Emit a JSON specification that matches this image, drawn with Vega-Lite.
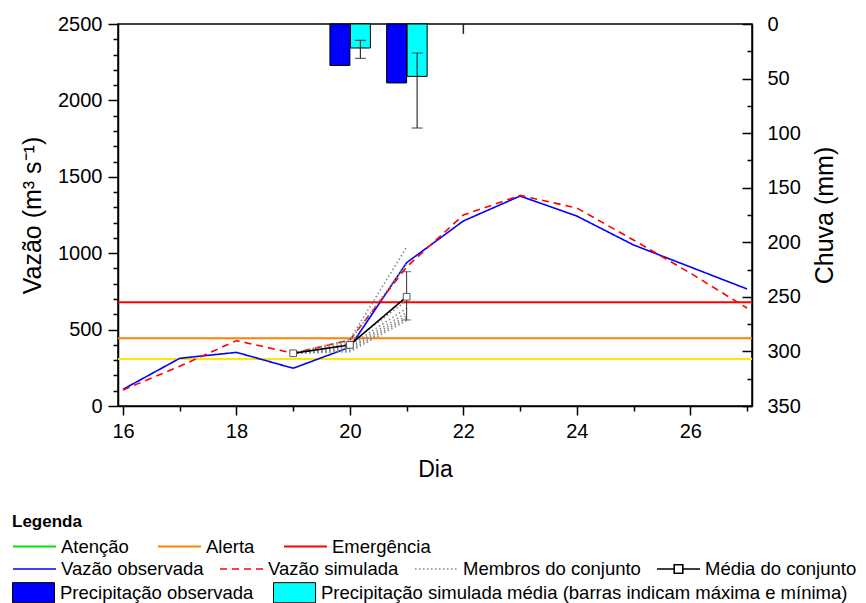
{
  "$schema": "https://vega.github.io/schema/vega-lite/v6.json",
  "width": 634,
  "height": 382,
  "autosize": {"type": "none"},
  "padding": {"left": 118, "top": 24, "right": 114, "bottom": 197},
  "background": "white",
  "datasets": {
    "limiares": [
      {"nivel": "Atenção", "vazao": 307},
      {"nivel": "Alerta", "vazao": 443},
      {"nivel": "Emergência", "vazao": 679}
    ],
    "vazao": [
      {"dia": 16, "vazao": 109, "serie": "Vazão observada", "membro": "obs"},
      {"dia": 17, "vazao": 312, "serie": "Vazão observada", "membro": "obs"},
      {"dia": 18, "vazao": 351, "serie": "Vazão observada", "membro": "obs"},
      {"dia": 19, "vazao": 247, "serie": "Vazão observada", "membro": "obs"},
      {"dia": 20, "vazao": 385, "serie": "Vazão observada", "membro": "obs"},
      {"dia": 21, "vazao": 938, "serie": "Vazão observada", "membro": "obs"},
      {"dia": 22, "vazao": 1211, "serie": "Vazão observada", "membro": "obs"},
      {"dia": 23, "vazao": 1374, "serie": "Vazão observada", "membro": "obs"},
      {"dia": 24, "vazao": 1243, "serie": "Vazão observada", "membro": "obs"},
      {"dia": 25, "vazao": 1054, "serie": "Vazão observada", "membro": "obs"},
      {"dia": 26, "vazao": 910, "serie": "Vazão observada", "membro": "obs"},
      {"dia": 27, "vazao": 766, "serie": "Vazão observada", "membro": "obs"},
      {"dia": 16, "vazao": 105, "serie": "Vazão simulada", "membro": "sim"},
      {"dia": 17, "vazao": 260, "serie": "Vazão simulada", "membro": "sim"},
      {"dia": 18, "vazao": 428, "serie": "Vazão simulada", "membro": "sim"},
      {"dia": 19, "vazao": 345, "serie": "Vazão simulada", "membro": "sim"},
      {"dia": 20, "vazao": 432, "serie": "Vazão simulada", "membro": "sim"},
      {"dia": 21, "vazao": 910, "serie": "Vazão simulada", "membro": "sim"},
      {"dia": 22, "vazao": 1250, "serie": "Vazão simulada", "membro": "sim"},
      {"dia": 23, "vazao": 1378, "serie": "Vazão simulada", "membro": "sim"},
      {"dia": 24, "vazao": 1296, "serie": "Vazão simulada", "membro": "sim"},
      {"dia": 25, "vazao": 1086, "serie": "Vazão simulada", "membro": "sim"},
      {"dia": 26, "vazao": 870, "serie": "Vazão simulada", "membro": "sim"},
      {"dia": 27, "vazao": 641, "serie": "Vazão simulada", "membro": "sim"},
      {"dia": 19, "vazao": 345, "serie": "Membros do conjunto", "membro": "m1"},
      {"dia": 20, "vazao": 435, "serie": "Membros do conjunto", "membro": "m1"},
      {"dia": 21, "vazao": 1040, "serie": "Membros do conjunto", "membro": "m1"},
      {"dia": 19, "vazao": 345, "serie": "Membros do conjunto", "membro": "m2"},
      {"dia": 20, "vazao": 425, "serie": "Membros do conjunto", "membro": "m2"},
      {"dia": 21, "vazao": 930, "serie": "Membros do conjunto", "membro": "m2"},
      {"dia": 19, "vazao": 345, "serie": "Membros do conjunto", "membro": "m3"},
      {"dia": 20, "vazao": 410, "serie": "Membros do conjunto", "membro": "m3"},
      {"dia": 21, "vazao": 690, "serie": "Membros do conjunto", "membro": "m3"},
      {"dia": 19, "vazao": 345, "serie": "Membros do conjunto", "membro": "m4"},
      {"dia": 20, "vazao": 395, "serie": "Membros do conjunto", "membro": "m4"},
      {"dia": 21, "vazao": 640, "serie": "Membros do conjunto", "membro": "m4"},
      {"dia": 19, "vazao": 345, "serie": "Membros do conjunto", "membro": "m5"},
      {"dia": 20, "vazao": 385, "serie": "Membros do conjunto", "membro": "m5"},
      {"dia": 21, "vazao": 610, "serie": "Membros do conjunto", "membro": "m5"},
      {"dia": 19, "vazao": 345, "serie": "Membros do conjunto", "membro": "m6"},
      {"dia": 20, "vazao": 375, "serie": "Membros do conjunto", "membro": "m6"},
      {"dia": 21, "vazao": 590, "serie": "Membros do conjunto", "membro": "m6"},
      {"dia": 19, "vazao": 345, "serie": "Membros do conjunto", "membro": "m7"},
      {"dia": 20, "vazao": 365, "serie": "Membros do conjunto", "membro": "m7"},
      {"dia": 21, "vazao": 575, "serie": "Membros do conjunto", "membro": "m7"},
      {"dia": 19, "vazao": 345, "serie": "Membros do conjunto", "membro": "m8"},
      {"dia": 20, "vazao": 355, "serie": "Membros do conjunto", "membro": "m8"},
      {"dia": 21, "vazao": 560, "serie": "Membros do conjunto", "membro": "m8"},
      {"dia": 19, "vazao": 345, "serie": "Média do conjunto", "membro": "media"},
      {"dia": 20, "vazao": 400, "serie": "Média do conjunto", "membro": "media"},
      {"dia": 21, "vazao": 715, "serie": "Média do conjunto", "membro": "media"}
    ],
    "erro_media": [
      {"dia": 21, "min": 563, "max": 879}
    ],
    "chuva": [
      {"dia": 20, "mm": 38, "tipo": "Precipitação observada"},
      {"dia": 21, "mm": 54, "tipo": "Precipitação observada"},
      {"dia": 20, "mm": 22, "tipo": "Precipitação simulada média (barras indicam máxima e mínima)"},
      {"dia": 21, "mm": 48, "tipo": "Precipitação simulada média (barras indicam máxima e mínima)"}
    ],
    "erro_chuva": [
      {"dia": 20, "min": 15, "max": 31.5},
      {"dia": 21, "min": 26.6, "max": 95.3}
    ],
    "erro_chuva_22": [
      {"dia": 22, "min": 0, "max": 9}
    ]
  },
  "layer": [
    {
      "layer": [
        {
          "data": {"name": "limiares"},
          "transform": [{"filter": "datum.nivel == 'Atenção'"}],
          "mark": {"type": "rule", "strokeWidth": 2, "color": "#ffe600"},
          "encoding": {
            "y": {
              "field": "vazao", "type": "quantitative", "title": "Vazão (m³ s⁻¹)",
              "scale": {"domain": [0, 2500], "nice": false, "zero": true},
              "axis": {
                "orient": "left",
                "values": [0,100,200,300,400,500,600,700,800,900,1000,1100,1200,1300,1400,1500,1600,1700,1800,1900,2000,2100,2200,2300,2400,2500],
                "tickCount": 40,
                "labelExpr": "datum.value % 500 == 0 ? format(datum.value, 'd') : ''",
                "labelFontSize": {"condition": {"test": "datum.value % 500 == 0", "value": 20}, "value": 0},
                "tickSize": {"condition": {"test": "datum.value % 500 == 0", "value": 10}, "value": 5},
                "labelPadding": 6,
                "labelOverlap": false,
                "labelBound": false,
                "labelFlush": false,
                "titlePadding": 12
              }
            }
          }
        },
        {
          "data": {"name": "limiares"},
          "transform": [{"filter": "datum.nivel == 'Alerta'"}],
          "mark": {"type": "rule", "strokeWidth": 2, "color": "#ff8000"},
          "encoding": {
            "y": {"field": "vazao", "type": "quantitative", "title": "Vazão (m³ s⁻¹)"}
          }
        },
        {
          "data": {"name": "limiares"},
          "transform": [{"filter": "datum.nivel == 'Emergência'"}],
          "mark": {"type": "rule", "strokeWidth": 2, "color": "#ff0000"},
          "encoding": {
            "y": {"field": "vazao", "type": "quantitative", "title": "Vazão (m³ s⁻¹)"}
          }
        },
        {
          "data": {"name": "limiares"},
          "transform": [{"filter": "datum.vazao < 0"}],
          "mark": {"type": "rule", "strokeWidth": 2},
          "encoding": {
            "y": {"field": "vazao", "type": "quantitative", "title": "Vazão (m³ s⁻¹)"},
            "stroke": {
              "field": "nivel", "type": "nominal",
              "scale": {"domain": ["Atenção", "Alerta", "Emergência"], "range": ["#00e600", "#ff8000", "#ff0000"]},
              "legend": {
                "title": "Legenda",
                "orient": "none",
                "legendX": -106,
                "legendY": 490,
                "direction": "horizontal",
                "symbolType": "stroke",
                "symbolSize": 1849,
                "symbolStrokeWidth": 2,
                "labelOffset": 4,
                "columnPadding": 25,
                "titlePadding": -7
              }
            }
          }
        },
        {
          "data": {"name": "vazao"},
          "mark": {"type": "line"},
          "encoding": {
            "x": {
              "field": "dia", "type": "quantitative", "title": "Dia",
              "scale": {"domain": [16, 27], "nice": false, "zero": false},
              "axis": {
                "values": [16,17,18,19,20,21,22,23,24,25,26,27],
                "tickCount": 40,
                "labelExpr": "datum.value % 2 == 0 ? format(datum.value, 'd') : ''",
                "tickSize": {"condition": {"test": "datum.value % 2 == 0", "value": 9}, "value": 5},
                "labelPadding": 6,
                "labelOverlap": false,
                "labelBound": false,
                "labelFlush": false,
                "titleFontSize": 23,
                "titlePadding": 17
              }
            },
            "y": {"field": "vazao", "type": "quantitative", "title": "Vazão (m³ s⁻¹)"},
            "detail": {"field": "membro"},
            "color": {
              "field": "serie", "type": "nominal",
              "scale": {"domain": ["Vazão observada", "Vazão simulada", "Membros do conjunto", "Média do conjunto"], "range": ["#0000ff", "#ff0000", "#888888", "#000000"]},
              "legend": {
                "title": null,
                "orient": "none",
                "legendX": -106,
                "legendY": 522.5,
                "direction": "horizontal",
                "symbolType": "stroke",
                "symbolSize": 1849,
                "symbolStrokeWidth": 1.5,
                "labelOffset": 4,
                "columnPadding": 12,
                "encode": {
                  "symbols": {
                    "update": {
                      "shape": {"signal": "datum.label == 'Média do conjunto' ? 'M-1,0H-0.2M0.2,0H1M-0.2,-0.2H0.2V0.2H-0.2Z' : 'stroke'"},
                      "strokeWidth": {"signal": "datum.label == 'Média do conjunto' ? 2 : 1.5"}
                    }
                  }
                }
              }
            },
            "strokeDash": {
              "field": "serie", "type": "nominal",
              "scale": {"domain": ["Vazão observada", "Vazão simulada", "Membros do conjunto", "Média do conjunto"], "range": [[1, 0], [7, 5], [1.5, 2.5], [1, 0]]},
              "legend": {
                "title": null,
                "orient": "none",
                "legendX": -106,
                "legendY": 522.5,
                "direction": "horizontal",
                "symbolType": "stroke",
                "symbolSize": 1849,
                "symbolStrokeWidth": 1.5,
                "labelOffset": 4,
                "columnPadding": 12
              }
            },
            "strokeWidth": {
              "field": "serie", "type": "nominal",
              "scale": {"domain": ["Vazão observada", "Vazão simulada", "Membros do conjunto", "Média do conjunto"], "range": [1.6, 1.6, 1.3, 2.2]},
              "legend": null
            }
          }
        },
        {
          "data": {"name": "erro_media"},
          "mark": {"type": "rule", "color": "#333333", "strokeWidth": 1},
          "encoding": {
            "x": {"field": "dia", "type": "quantitative"},
            "y": {"field": "min", "type": "quantitative", "title": "Vazão (m³ s⁻¹)"},
            "y2": {"field": "max"}
          }
        },
        {
          "data": {"name": "erro_media"},
          "mark": {"type": "tick", "orient": "horizontal", "color": "#333333", "size": 9, "thickness": 1},
          "encoding": {
            "x": {"field": "dia", "type": "quantitative"},
            "y": {"field": "min", "type": "quantitative", "title": "Vazão (m³ s⁻¹)"}
          }
        },
        {
          "data": {"name": "erro_media"},
          "mark": {"type": "tick", "orient": "horizontal", "color": "#333333", "size": 9, "thickness": 1},
          "encoding": {
            "x": {"field": "dia", "type": "quantitative"},
            "y": {"field": "max", "type": "quantitative", "title": "Vazão (m³ s⁻¹)"}
          }
        },
        {
          "data": {"name": "vazao"},
          "transform": [{"filter": "datum.serie == 'Média do conjunto'"}],
          "mark": {"type": "point", "shape": "square", "filled": true, "fill": "white", "stroke": "#555555", "strokeWidth": 1, "size": 45, "opacity": 1},
          "encoding": {
            "x": {"field": "dia", "type": "quantitative"},
            "y": {"field": "vazao", "type": "quantitative", "title": "Vazão (m³ s⁻¹)"}
          }
        }
      ]
    },
    {
      "layer": [
        {
          "data": {"name": "chuva"},
          "transform": [{"filter": "datum.tipo == 'Precipitação observada'"}],
          "mark": {"type": "bar", "width": 20, "xOffset": -10, "stroke": "#000000", "strokeWidth": 1},
          "encoding": {
            "x": {"field": "dia", "type": "quantitative"},
            "y": {
              "field": "mm", "type": "quantitative", "title": "Chuva (mm)",
              "scale": {"domain": [0, 350], "reverse": true, "nice": false},
              "axis": {
                "orient": "right",
                "values": [0,25,50,75,100,125,150,175,200,225,250,275,300,325,350],
                "tickCount": 40,
                "labelExpr": "datum.value % 50 == 0 ? format(datum.value, 'd') : ''",
                "labelFontSize": {"condition": {"test": "datum.value % 50 == 0", "value": 20}, "value": 0},
                "tickSize": {"condition": {"test": "datum.value % 50 == 0", "value": -10}, "value": -5},
                "labelPadding": 25,
                "labelOverlap": false,
                "labelBound": false,
                "labelFlush": false,
                "titleAngle": 270,
                "titleBaseline": "top",
                "titlePadding": 12
              }
            },
            "fill": {
              "field": "tipo", "type": "nominal",
              "scale": {"domain": ["Precipitação observada", "Precipitação simulada média (barras indicam máxima e mínima)"], "range": ["#0000ff", "#00ffff"]},
              "legend": {
                "title": null,
                "orient": "none",
                "legendX": -106,
                "legendY": 547,
                "direction": "horizontal",
                "symbolType": "M-1,-0.48H1V0.48H-1Z",
                "symbolSize": 1764,
                "symbolStrokeColor": "#000000",
                "symbolStrokeWidth": 1,
                "labelOffset": 5,
                "columnPadding": 17
              }
            }
          }
        },
        {
          "data": {"name": "chuva"},
          "transform": [{"filter": "datum.tipo != 'Precipitação observada'"}],
          "mark": {"type": "bar", "width": 20, "xOffset": 10.5, "stroke": "#000000", "strokeWidth": 1},
          "encoding": {
            "x": {"field": "dia", "type": "quantitative"},
            "y": {"field": "mm", "type": "quantitative", "title": "Chuva (mm)"},
            "fill": {"field": "tipo", "type": "nominal"}
          }
        },
        {
          "data": {"name": "erro_chuva"},
          "mark": {"type": "rule", "xOffset": 10.5, "color": "#333333", "strokeWidth": 1.2},
          "encoding": {
            "x": {"field": "dia", "type": "quantitative"},
            "y": {"field": "min", "type": "quantitative", "title": "Chuva (mm)"},
            "y2": {"field": "max"}
          }
        },
        {
          "data": {"name": "erro_chuva"},
          "mark": {"type": "tick", "orient": "horizontal", "xOffset": 10.5, "color": "#222222", "size": 11, "thickness": 1.2},
          "encoding": {
            "x": {"field": "dia", "type": "quantitative"},
            "y": {"field": "min", "type": "quantitative", "title": "Chuva (mm)"}
          }
        },
        {
          "data": {"name": "erro_chuva"},
          "mark": {"type": "tick", "orient": "horizontal", "xOffset": 10.5, "color": "#222222", "size": 11, "thickness": 1.2},
          "encoding": {
            "x": {"field": "dia", "type": "quantitative"},
            "y": {"field": "max", "type": "quantitative", "title": "Chuva (mm)"}
          }
        },
        {
          "data": {"name": "erro_chuva_22"},
          "mark": {"type": "rule", "color": "#222222", "strokeWidth": 1.5},
          "encoding": {
            "x": {"field": "dia", "type": "quantitative"},
            "y": {"field": "min", "type": "quantitative", "title": "Chuva (mm)"},
            "y2": {"field": "max"}
          }
        }
      ]
    }
  ],
  "resolve": {"scale": {"y": "independent"}},
  "config": {
    "font": "Liberation Sans",
    "view": {"stroke": "#000000", "strokeWidth": 1.5},
    "axis": {
      "grid": false,
      "domainColor": "#000000",
      "domainWidth": 1.5,
      "tickColor": "#000000",
      "tickWidth": 1.5,
      "labelColor": "#000000",
      "titleColor": "#000000",
      "labelFont": "Liberation Sans",
      "titleFont": "Liberation Sans",
      "labelFontSize": 20,
      "titleFontSize": 25,
      "titleFontWeight": "normal",
      "labelOverlap": false
    },
    "legend": {
      "labelFont": "Liberation Sans",
      "titleFont": "Liberation Sans",
      "labelFontSize": 18.5,
      "labelColor": "#000000",
      "titleColor": "#000000",
      "titleFontSize": 17,
      "titleFontWeight": "bold",
      "labelLimit": 0,
      "padding": 0
    }
  }
}
